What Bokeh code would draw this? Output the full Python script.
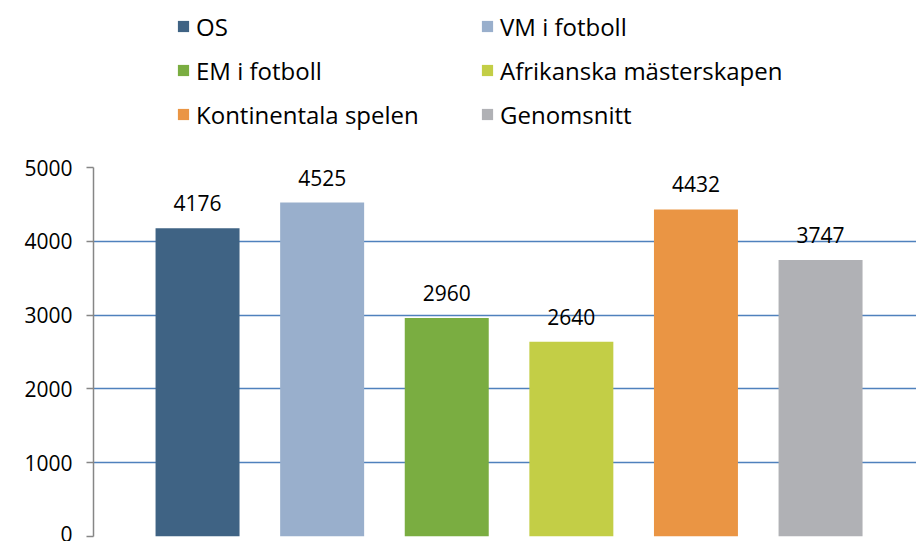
from bokeh.plotting import figure
from bokeh.layouts import column
from bokeh.models import ColumnDataSource, LabelSet, Legend, LegendItem, FixedTicker, Range1d
from bokeh.core.properties import value
from bokeh.embed import file_html
from bokeh.resources import INLINE

categories = ["OS", "VM i fotboll", "EM i fotboll", "Afrikanska mästerskapen",
              "Kontinentala spelen", "Genomsnitt"]
values = [4176, 4525, 2960, 2640, 4432, 3747]
colors = ["#3F6384", "#99AFCC", "#7AAD41", "#C3CE46", "#EA9544", "#B0B1B5"]
y_ticks = [0, 1000, 2000, 3000, 4000, 5000]
legend_order = [0, 2, 4, 1, 3, 5]  # column-major fill gives row order OS|VM, EM|Afr, Kont|Gen

FONT = "Open Sans"

positions = list(range(len(categories)))
source = ColumnDataSource(dict(
    x=positions, top=values, color=colors, cat=categories,
    label=[str(v) for v in values],
))

# ---- legend strip ----
lg = figure(width=916, height=140, output_backend="svg", toolbar_location=None,
            x_range=Range1d(0, 1), y_range=Range1d(0, 1),
            min_border_left=0, min_border_right=0, min_border_top=0,
            min_border_bottom=0)
lg.axis.visible = False
lg.grid.visible = False
lg.outline_line_color = None
lg_bars = lg.vbar(x="x", top="top", bottom=0, width=0.674, source=source,
                  fill_color="color", line_color=None, visible=False)
items = [LegendItem(label=categories[i], renderers=[lg_bars], index=i) for i in legend_order]
legend = Legend(items=items, ncols=2, location=(83, 9),
                glyph_width=14, glyph_height=14, label_standoff=6,
                label_width=274, label_height=34, spacing=10, padding=0,
                margin=0, border_line_color=None, background_fill_alpha=0,
                label_text_font=FONT, label_text_font_size="24px",
                label_text_color="black")
lg.add_layout(legend, "center")

# ---- chart ----
p = figure(width=916, height=401, output_backend="svg", toolbar_location=None,
           x_range=Range1d(-0.835, 5.77), y_range=Range1d(0, 5000),
           min_border_left=93, min_border_right=0, min_border_top=27,
           min_border_bottom=5)
p.outline_line_color = None
p.background_fill_color = "white"
p.border_fill_color = "white"

p.xaxis.visible = False
p.xgrid.visible = False

p.yaxis.ticker = FixedTicker(ticks=y_ticks)
p.yaxis.axis_line_color = "#868686"
p.yaxis.axis_line_width = 1.5
p.yaxis.major_tick_line_color = "#868686"
p.yaxis.major_tick_line_width = 1.5
p.yaxis.major_tick_out = 7
p.yaxis.major_tick_in = 0
p.yaxis.minor_tick_line_color = None
p.yaxis.major_label_standoff = 14
p.yaxis.major_label_text_font = FONT
p.yaxis.major_label_text_font_size = "21px"
p.yaxis.major_label_text_color = "black"

p.ygrid.ticker = FixedTicker(ticks=y_ticks)
p.ygrid.grid_line_color = "#4F81BD"
p.ygrid.grid_line_width = 1.5

bars = p.vbar(x="x", top="top", bottom=0, width=0.674, source=source,
              fill_color="color", line_color=None)

labels = LabelSet(x="x", y="top", text="label", source=source,
                  text_align="center", text_baseline="alphabetic", y_offset=17,
                  text_font=value(FONT), text_font_size=value("21px"),
                  text_color=value("black"))
p.add_layout(labels)

layout = column(lg, p, spacing=0)
open("out.html", "w").write(file_html(layout, INLINE))
